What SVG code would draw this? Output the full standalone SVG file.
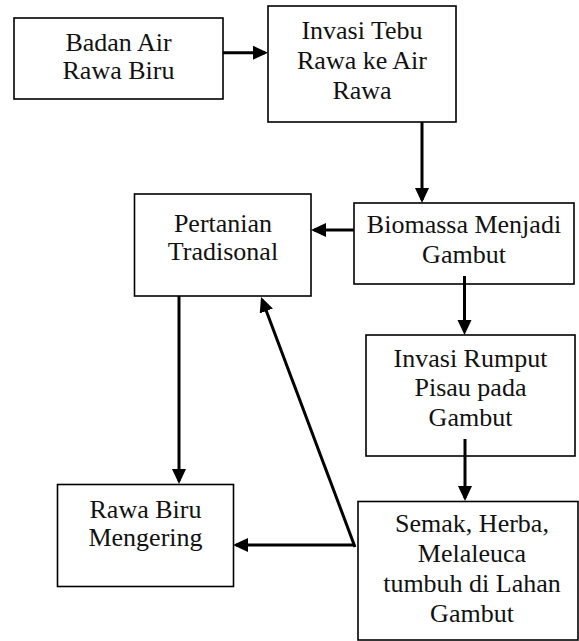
<svg xmlns="http://www.w3.org/2000/svg" width="579" height="641" viewBox="0 0 579 641">
<style>
.box{fill:#fff;stroke:#000;stroke-width:1.6}
.t{font-family:"Liberation Serif","Times New Roman",serif;font-size:26px;fill:#111;text-anchor:middle}
.c{stroke:#000;stroke-width:3;fill:none;marker-end:url(#ah)}
</style>
<defs>
<marker id="ah" markerUnits="userSpaceOnUse" markerWidth="16" markerHeight="15" refX="12" refY="7" orient="auto">
<path d="M0,0 L15,7 L0,14 Z" fill="#000"/>
</marker>
</defs>
<rect width="579" height="641" fill="#fff"/>
<g id="n1">
<rect class="box" x="14" y="18" width="209" height="81"/>
<text class="t" x="118.5" y="51">Badan Air</text>
<text class="t" x="118.5" y="79">Rawa Biru</text>
</g>
<g id="n2">
<rect class="box" x="268" y="6" width="188" height="116"/>
<text class="t" x="362" y="39">Invasi Tebu</text>
<text class="t" x="362" y="69">Rawa ke Air</text>
<text class="t" x="362" y="99">Rawa</text>
</g>
<g id="n3">
<rect class="box" x="354" y="203" width="220" height="81"/>
<text class="t" x="464" y="233">Biomassa Menjadi</text>
<text class="t" x="464" y="263">Gambut</text>
</g>
<g id="n4">
<rect class="box" x="134.5" y="194" width="176.5" height="102"/>
<text class="t" x="223" y="232">Pertanian</text>
<text class="t" x="223" y="260">Tradisonal</text>
</g>
<g id="n5">
<rect class="box" x="366" y="335" width="209" height="121"/>
<text class="t" x="470.5" y="367">Invasi Rumput</text>
<text class="t" x="470.5" y="396">Pisau pada</text>
<text class="t" x="470.5" y="426">Gambut</text>
</g>
<g id="n6">
<rect class="box" x="358" y="501.5" width="220" height="138.5"/>
<text class="t" x="472" y="532">Semak, Herba,</text>
<text class="t" x="472" y="562">Melaleuca</text>
<text class="t" x="472" y="592">tumbuh di Lahan</text>
<text class="t" x="472" y="622">Gambut</text>
</g>
<g id="n7">
<rect class="box" x="57.5" y="484.5" width="176" height="102"/>
<text class="t" x="145.5" y="518">Rawa Biru</text>
<text class="t" x="145.5" y="546">Mengering</text>
</g>
<g id="connectors">
<line class="c" x1="223" y1="52.7" x2="265" y2="52.7"/>
<line class="c" x1="422" y1="122" x2="422" y2="200"/>
<line class="c" x1="354" y1="230" x2="314" y2="230"/>
<line class="c" x1="464.5" y1="276" x2="464.5" y2="332"/>
<line class="c" x1="465" y1="439" x2="465" y2="498"/>
<line class="c" x1="179" y1="296" x2="179" y2="481"/>
<line class="c" x1="355" y1="545" x2="236" y2="545"/>
<line class="c" x1="355" y1="547" x2="262.1" y2="299.8"/>
</g>
</svg>
